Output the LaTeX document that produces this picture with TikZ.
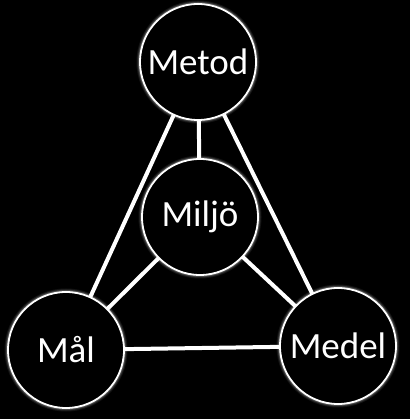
\documentclass[tikz,border=0pt]{standalone}
\usepackage{fontspec}
\setmainfont{Carlito}
\begin{document}
\begin{tikzpicture}[x=1pt,y=1pt,
  ball/.style={circle,draw=white,line width=1.8pt,fill=black,minimum size=116pt,inner sep=0pt,text=white,font=\fontsize{37}{44}\selectfont},
  link/.style={draw=white,line width=4pt}]
\fill[black] (0,0) rectangle (410,419);
\useasboundingbox (0,0) rectangle (410,419);
\coordinate (pM) at (198,357);
\coordinate (pJ) at (200,202);
\coordinate (pL) at (66,69);
\coordinate (pD) at (338,73);
\foreach \p in {pM,pJ,pL,pD}{
  \foreach \w/\o in {7/0.08,5/0.12,3.5/0.18}{
    \draw[white,opacity=\o,line width=\w pt] (\p) circle (58pt);
  }
}
\draw[link] (pM) -- (pJ);
\draw[link] (pM) -- (pL);
\draw[link] (pM) -- (pD);
\draw[link] (pJ) -- (pL);
\draw[link] (pJ) -- (pD);
\draw[link] (pL) -- (pD);
\node[ball] (metod) at (pM) {Metod};
\node[ball] (miljo) at (pJ) {Miljö};
\node[ball] (mal) at (pL) {Mål};
\node[ball] (medel) at (pD) {Medel};
\end{tikzpicture}
\end{document}
